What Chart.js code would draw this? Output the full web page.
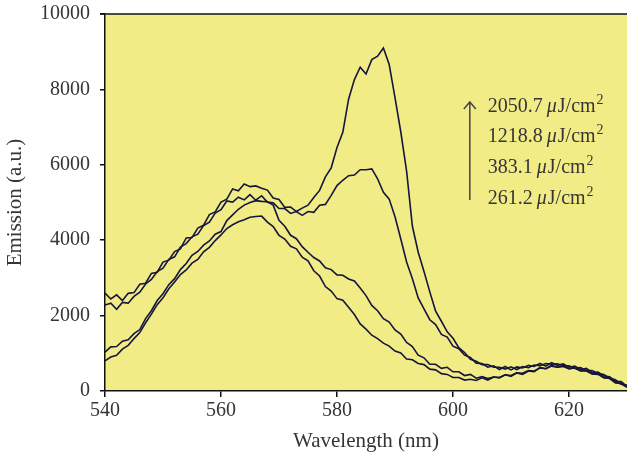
<!DOCTYPE html>
<html><head><meta charset="utf-8">
<script src="https://cdn.jsdelivr.net/npm/chart.js@4.4.0/dist/chart.umd.min.js"></script>
<style>html,body{margin:0;padding:0;background:#fff}#wrap{width:627px;height:459px}</style>
</head><body><div id="wrap"><canvas id="c" width="627" height="459"></canvas></div>
<script>
const wavelengths = [540,541,542,543,544,545,546,547,548,549,550,551,552,553,554,555,556,557,558,559,560,561,562,563,564,565,566,567,568,569,570,571,572,573,574,575,576,577,578,579,580,581,582,583,584,585,586,587,588,589,590,591,592,593,594,595,596,597,598,599,600,601,602,603,604,605,606,607,608,609,610,611,612,613,614,615,616,617,618,619,620,621,622,623,624,625,626,627,628,629,630];
const emission2050 = [2600,2440,2550,2400,2590,2610,2830,2860,3120,3150, 3420,3470,3700,3770,4060,4070,4320,4400,4680,4750, 5010,5090,5360,5310,5490,5420,5440,5380,5330,5120, 5080,4870,4880,4760,4850,4930,5130,5320,5680,5920, 6460,6860,7740,8260,8590,8410,8790,8880,9100,8660, 7780,6870,5830,4370,3680,3170,2630,2120,1850,1570, 1400,1150,1020,840,790,700,700,630,630,580, 640,570,650,620,690,670,730,710,720,670, 670,600,620,540,540,460,440,340,300,180,160];
const emission1218 = [2280,2330,2170,2350,2330,2510,2620,2840,2960,3170, 3260,3490,3560,3820,3910,4090,4160,4390,4480,4720, 4810,5040,5010,5140,5070,5210,5060,5180,5010,4990, 4840,4840,4710,4760,4660,4760,4740,4930,4950,5190, 5450,5590,5710,5730,5870,5870,5890,5630,5270,5090, 4620,4030,3420,2980,2470,2180,1890,1760,1500,1430, 1190,1120,950,890,740,730,630,670,570,650, 560,640,610,680,650,730,660,750,680,720, 630,660,570,600,490,500,400,380,260,250,120];
const emission383 = [1030,1170,1180,1320,1360,1520,1630,1920,2130,2400, 2580,2820,2980,3220,3380,3600,3700,3870,3980,4160, 4230,4520,4670,4820,4930,5000,5050,5030,5020,4930, 4530,4370,4130,4040,3830,3680,3540,3450,3270,3220, 3080,3070,2970,2920,2730,2530,2270,2130,1920,1830, 1620,1510,1290,1180,950,880,710,710,600,630, 510,510,410,440,340,380,330,370,350,430, 390,480,440,530,510,630,590,680,630,670, 590,610,530,550,450,460,350,350,220,210,110];
const emission261 = [800,900,950,1110,1210,1390,1550,1810,2040,2290, 2470,2710,2890,3090,3210,3390,3490,3690,3810,3990, 4140,4310,4410,4490,4540,4610,4630,4640,4480,4360, 4130,4030,3840,3770,3550,3450,3190,3050,2770,2650, 2450,2410,2220,2030,1780,1640,1480,1390,1270,1190, 1060,1010,850,830,730,700,580,560,460,440, 360,360,290,310,280,350,290,370,360,430, 410,480,470,540,530,610,590,660,630,650, 590,610,540,530,450,440,350,330,220,190,100];
const fluenceLabels = ['2050.7','1218.8','383.1','261.2'];
const fluenceUnit = 'J/cm';
const xTicks = [540,560,580,600,620];
const yTicks = [0,2000,4000,6000,8000,10000];
// annotation anchors in data units
const labelX = 606.0;
const labelY = [7534,6738,5916,5094];
const arrowX = 602.9;
const arrowFrom = 5067;
const arrowTo = 7667;

const LINE = '#16163d';
const TXT = '#353535';
const SERIF = '"Liberation Serif", "DejaVu Serif", serif';

const series = [emission2050, emission1218, emission383, emission261];
const datasets = series.map((s, k) => ({
  label: fluenceLabels[k],
  data: wavelengths.map((w, i) => ({x: w, y: s[i]})),
  borderColor: LINE, borderWidth: 1.6, pointRadius: 0, tension: 0, fill: false
}));

const bgPlugin = {
  id: 'bg',
  beforeDraw(chart) {
    const {ctx, chartArea: a} = chart;
    ctx.save();
    ctx.fillStyle = '#f2ec87';
    ctx.fillRect(a.left, a.top, a.right - a.left, a.bottom - a.top);
    ctx.restore();
  },
  afterDraw(chart) {
    const {ctx, chartArea: a} = chart;
    ctx.save();
    ctx.strokeStyle = '#111'; ctx.lineWidth = 1.5;
    ctx.beginPath(); ctx.moveTo(a.left - 5, a.top); ctx.lineTo(a.right, a.top); ctx.stroke();
    ctx.restore();
  }
};

const notePlugin = {
  id: 'notes',
  afterDatasetsDraw(chart) {
    const {ctx, scales: {x, y}} = chart;
    ctx.save();
    const ax = x.getPixelForValue(arrowX);
    const y1 = y.getPixelForValue(arrowFrom), y2 = y.getPixelForValue(arrowTo);
    ctx.strokeStyle = '#444'; ctx.lineWidth = 1.5;
    ctx.beginPath(); ctx.moveTo(ax, y1); ctx.lineTo(ax, y2); ctx.stroke();
    ctx.beginPath(); ctx.moveTo(ax - 6, y2 + 7); ctx.lineTo(ax, y2); ctx.lineTo(ax + 6, y2 + 7); ctx.stroke();
    ctx.fillStyle = TXT; ctx.textBaseline = 'middle'; ctx.textAlign = 'left';
    fluenceLabels.forEach((t, i) => {
      let px = x.getPixelForValue(labelX);
      const py = y.getPixelForValue(labelY[i]);
      ctx.font = '20px ' + SERIF;
      ctx.fillText(t, px, py); px += ctx.measureText(t).width + 4;
      ctx.font = 'italic 20px ' + SERIF;
      ctx.fillText('\u03bc', px, py); px += ctx.measureText('\u03bc').width + 1;
      ctx.font = '20px ' + SERIF;
      ctx.fillText(fluenceUnit, px, py); px += ctx.measureText(fluenceUnit).width;
      ctx.font = '14px ' + SERIF;
      ctx.fillText('2', px + 1, py - 7);
    });
    ctx.restore();
  }
};

new Chart(document.getElementById('c'), {
  type: 'line',
  data: {datasets},
  plugins: [bgPlugin, notePlugin],
  options: {
    responsive: false, animation: false, devicePixelRatio: 1,
    layout: {padding: {top: 14, right: 0, left: 0, bottom: 0}},
    plugins: {legend: {display: false}, tooltip: {enabled: false}},
    scales: {
      x: {
        type: 'linear', min: 540, max: 630,
        afterBuildTicks: s => { s.ticks = xTicks.map(v => ({value: v})); },
        afterFit: s => { s.height = 68; s.paddingLeft = 0; s.paddingRight = 0; },
        ticks: {font: {family: SERIF, size: 20}, color: TXT, padding: 2, maxRotation: 0, callback: v => String(v)},
        grid: {drawOnChartArea: false, tickLength: 6, color: '#111', lineWidth: 1.5},
        border: {color: '#111', width: 1.5},
        title: {display: true, text: 'Wavelength (nm)', font: {family: SERIF, size: 21}, color: TXT, padding: {top: 0, bottom: 5}}
      },
      y: {
        min: 0, max: 10000,
        afterBuildTicks: s => { s.ticks = yTicks.map(v => ({value: v})); },
        afterFit: s => { s.width = 105; s.paddingTop = 0; s.paddingBottom = 0; },
        ticks: {font: {family: SERIF, size: 20}, color: TXT, padding: 10, callback: v => String(v)},
        grid: {drawOnChartArea: false, tickLength: 5, color: '#111', lineWidth: 1.5},
        border: {color: '#111', width: 1.5},
        title: {display: true, text: 'Emission (a.u.)', font: {family: SERIF, size: 21}, color: TXT, padding: {top: 3, bottom: 0}}
      }
    }
  }
});
</script></body></html>
